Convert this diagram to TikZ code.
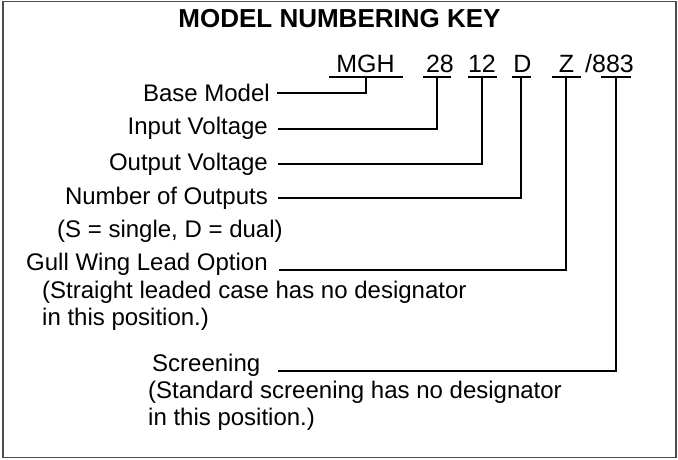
\documentclass[tikz,border=0pt]{standalone}
\usepackage{fontspec}
\setmainfont{Liberation Sans}
\usetikzlibrary{positioning}

\begin{document}
\begin{tikzpicture}[x=1pt, y=-1pt,
    lbl/.style={anchor=base east, inner sep=0pt, font=\fontsize{24}{28}\selectfont},
    note/.style={anchor=base west, inner sep=0pt, font=\fontsize{24}{28}\selectfont},
    code/.style={anchor=base, inner sep=0pt, font=\fontsize{25}{30}\selectfont},
    bar/.style={fill=black, inner sep=0pt, minimum height=1.9pt},
    lead/.style={line width=1.9pt}]

    \useasboundingbox (0,0) rectangle (678,460);
    \draw[line width=1.2pt, black!70] (3,1.5) rectangle (676,457.5);

    % Title
    \node[anchor=base, inner sep=0pt, font=\fontsize{26}{30}\selectfont\bfseries] (title) at (339.5,28) {MODEL NUMBERING KEY};

    % Model number
    \node[code] (mgh) at (365.5,73) {MGH};
    \node[code] (vin) at (440,73) {28};
    \node[code] (vout) at (482,73) {12};
    \node[code] (outs) at (522.5,73) {D};
    \node[code] (lead) at (566.5,73) {Z};
    \node[code, anchor=base west] (scr) at (585,73) {/883};

    % Underlines
    \node[bar, minimum width=74pt] (mghbar) at (366,77) {};
    \node[bar, minimum width=28pt] (vinbar) at (437,77) {};
    \node[bar, minimum width=29pt] (voutbar) at (482,77) {};
    \node[bar, minimum width=19pt] (outsbar) at (521,77) {};
    \node[bar, minimum width=29pt] (leadbar) at (566,77) {};
    \node[bar, minimum width=30pt] (scrbar) at (616,77) {};

    % Labels
    \node[lbl] (base) at (270,102) {Base Model};
    \node[lbl] (input) at (268,135) {Input Voltage};
    \node[lbl] (output) at (268,170) {Output Voltage};
    \node[lbl] (number) at (268,204) {Number of Outputs};
    \node[note] (numnote) at (57,237) {(S = single, D = dual)};
    \node[note] (gull) at (26,270) {Gull Wing Lead Option};
    \node[note] (gullnote) at (42,298) {(Straight leaded case has no designator};
    \node[note] (gullpos) at (42,325) {in this position.)};
    \node[note] (screen) at (152,371) {Screening};
    \node[note] (screennote) at (148,398) {(Standard screening has no designator};
    \node[note] (screenpos) at (148,425) {in this position.)};

    % Leads
    \draw[lead, shorten <=7pt] (base.east) -| (mghbar.south);
    \draw[lead, shorten <=10pt] (input.east) -| (vinbar.south);
    \draw[lead, shorten <=10pt] (output.east) -| (voutbar.south);
    \draw[lead, shorten <=10pt] (number.east) -| (outsbar.south);
    \draw[lead, shorten <=11pt] (gull.base east) -| (leadbar.south);
    \draw[lead, shorten <=18pt] (screen.base east) -| (scrbar.south);

\end{tikzpicture}
\end{document}
